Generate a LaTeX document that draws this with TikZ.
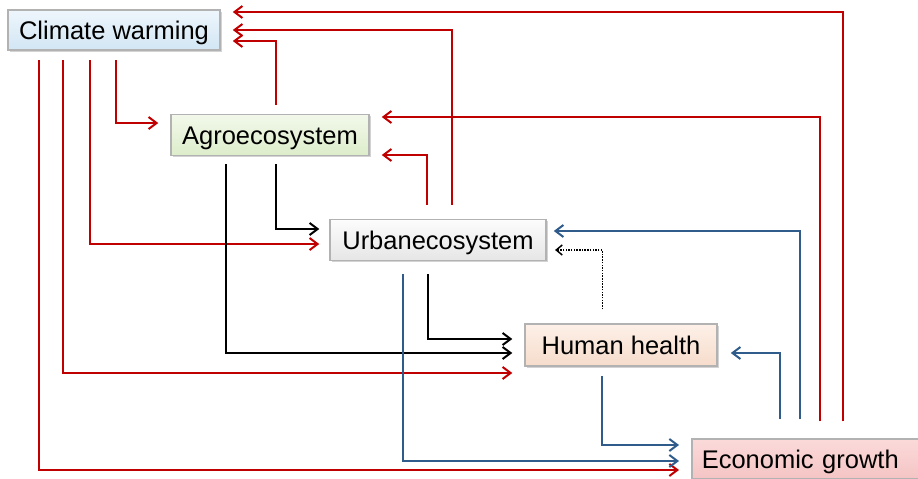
\documentclass[tikz,border=0pt]{standalone}
\usepackage{fontspec}
\setmainfont{Liberation Sans}
\usetikzlibrary{arrows.meta,shadows}
\definecolor{cred}{HTML}{C00000}
\definecolor{cblue}{HTML}{2F5C8A}
\definecolor{cwA}{HTML}{EEF6FC}\definecolor{cwB}{HTML}{D2E6F4}
\definecolor{agA}{HTML}{F2F8EA}\definecolor{agB}{HTML}{DDEDCB}
\definecolor{urA}{HTML}{FCFCFC}\definecolor{urB}{HTML}{E6E6E6}
\definecolor{hhA}{HTML}{FDF0E8}\definecolor{hhB}{HTML}{F6DCCB}
\definecolor{egA}{HTML}{FBDADA}\definecolor{egB}{HTML}{F5C4C4}
\begin{document}
\begin{tikzpicture}[x=1pt,y=1pt,
  box/.style={rectangle,inner sep=0pt,draw=gray!60,line width=1.5pt,
    drop shadow={shadow xshift=1.5pt,shadow yshift=-1.5pt,opacity=0.35},
    text height=21pt,text depth=3pt,
    font=\fontsize{25.5}{30}\selectfont},
  ar/.style={line width=2pt,-{Straight Barb[length=8pt,width=12pt,line width=2pt]},shorten >=12pt},
  rl/.style={ar,draw=cred},
  bl/.style={ar,draw=cblue},
  kl/.style={ar,draw=black}]
\useasboundingbox (0,0) rectangle (918,-479);
\node[box,top color=cwA,bottom color=cwB,minimum width=212pt,minimum height=40pt] (cw) at (114,-30) {Climate warming};
\node[box,top color=agA,bottom color=agB,minimum width=198pt,minimum height=41pt] (agro) at (270,-135) {Agroecosystem};
\node[box,top color=urA,bottom color=urB,minimum width=216pt,minimum height=41pt] (urban) at (438,-240) {Urbanecosystem};
\node[box,top color=hhA,bottom color=hhB,minimum width=192pt,minimum height=42pt] (hh) at (621,-345) {Human health};
\node[box,top color=egA,bottom color=egB,minimum width=228pt,minimum height=40pt,text width=208pt,align=left,anchor=west,inner xsep=10pt] (eg) at (691,-459) {Economic growth};
% red connectors
\draw[rl] ([xshift=152pt,yshift=17pt]eg.north west) |- ([yshift=18pt]cw.east);
\draw[rl] ([xshift=123pt,yshift=14pt]urban.north west) |- (cw.east);
\draw[rl] ([xshift=106pt,yshift=9pt]agro.north west) |- ([yshift=-11pt]cw.east);
\draw[rl] ([xshift=129pt,yshift=17pt]eg.north west) |- ([yshift=18pt]agro.east);
\draw[rl] ([xshift=98pt,yshift=14pt]urban.north west) |- ([yshift=-20pt]agro.east);
\draw[rl] ([xshift=109pt,yshift=-9pt]cw.south west) |- ([yshift=12pt]agro.west);
\draw[rl,shorten >=10pt] ([xshift=83pt,yshift=-9pt]cw.south west) |- ([yshift=-4pt]urban.west);
\draw[rl] ([xshift=56pt,yshift=-9pt]cw.south west) |- ([yshift=-28pt]hh.west);
\draw[rl] ([xshift=32pt,yshift=-9pt]cw.south west) |- ([yshift=-11pt]eg.west);
% black connectors
\draw[kl,shorten >=10pt] ([xshift=106pt,yshift=-8pt]agro.south west) |- ([yshift=11pt]urban.west);
\draw[kl] ([xshift=56pt,yshift=-8pt]agro.south west) |- ([yshift=-8pt]hh.west);
\draw[kl] ([xshift=99pt,yshift=-13pt]urban.south west) |- ([yshift=6pt]hh.west);
\draw[draw=black,line width=1.5pt,dash pattern=on 1.5pt off 1.2pt,shorten >=7pt,-{Straight Barb[length=6pt,width=10pt,line width=1.5pt,sep]}] ([xshift=78pt,yshift=14pt]hh.north west) |- ([yshift=-10pt]urban.east);
% blue connectors
\draw[bl] ([xshift=74pt,yshift=-13pt]urban.south west) |- ([yshift=-2pt]eg.west);
\draw[bl] ([xshift=78pt,yshift=-9pt]hh.south west) |- ([yshift=14pt]eg.west);
\draw[bl,shorten >=13pt] ([xshift=89pt,yshift=19pt]eg.north west) |- ([yshift=-8pt]hh.east);
\draw[bl,shorten >=7pt] ([xshift=109pt,yshift=19pt]eg.north west) |- ([yshift=9pt]urban.east);
\end{tikzpicture}
\end{document}
